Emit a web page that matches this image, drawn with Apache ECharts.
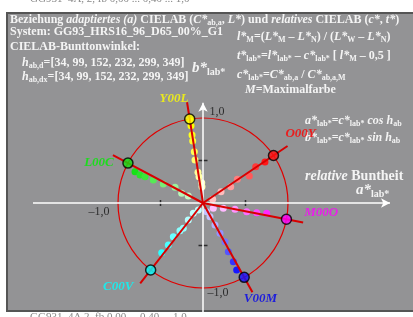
<!DOCTYPE html>
<html>
<head>
<meta charset="utf-8">
<script src="https://cdn.jsdelivr.net/npm/echarts@6/dist/echarts.min.js"></script>
<style>
  html, body { margin: 0; padding: 0; background: #fff; }
  #chart { width: 413px; height: 317px; }
</style>
</head>
<body>
<div id="chart"></div>
<script>
// Bunttonwinkel der sechs Elementarfarben (Grad)
const hueNames = ['O00Y', 'Y00L', 'L00C', 'C00V', 'V00M', 'M00O'];
const hueAngles = [34, 99, 152, 232, 299, 349];
const hueColors = ['#ff1010', '#ffff00', '#10e010', '#00ffff', '#1010ff', '#ff00ff'];
const labelColors = ['#ff0000', '#ffff00', '#00ee00', '#00ffff', '#0000ee', '#ff00ff'];
// Versatz der Beschriftung gegen das Linienende (px)
const labelOffsets = [[13, -12], [-13, -4], [-14, 8], [-22, 3], [8, 6], [18, -10]];

// Messpunkte [a*lab*, b*lab*] je Farbreihe, vom Rand zur Mitte
const dotsO = [[0.729, 0.482], [0.62, 0.427], [0.545, 0.318], [0.404, 0.279], [0.326, 0.192], [0.212, 0.133], [0.114, 0.044]];
const dotsY = [[-0.145, 0.965], [-0.141, 0.909], [-0.129, 0.8], [-0.121, 0.729], [-0.102, 0.604], [-0.094, 0.506], [-0.059, 0.361], [-0.047, 0.31], [-0.015, 0.239], [-0.012, 0.192]];
const dotsL = [[-0.8, 0.368], [-0.741, 0.329], [-0.682, 0.31], [-0.585, 0.271], [-0.467, 0.224], [-0.329, 0.185], [-0.251, 0.114], [-0.173, 0.082]];
const dotsC = [[-0.486, -0.585], [-0.408, -0.494], [-0.349, -0.396], [-0.271, -0.326], [-0.232, -0.298], [-0.173, -0.2], [-0.114, -0.121], [-0.055, -0.082]];
const dotsV = [[0.396, -0.788], [0.357, -0.69], [0.298, -0.573], [0.259, -0.455], [0.2, -0.357], [0.141, -0.259], [0.082, -0.161], [0.043, -0.102]];
const dotsM = [[0.749, -0.121], [0.632, -0.114], [0.514, -0.102], [0.376, -0.074], [0.239, -0.062], [0.121, -0.062]];
const dotSets = [dotsO, dotsY, dotsL, dotsC, dotsV, dotsM];

// Achsen
const axisX = [-2.0, 2.2];
const axisY = [-1.3, 1.18];
const tickVals = [-0.5, 0.5];
const lineLen = 1.2;

const serif = '"Liberation Serif", "DejaVu Serif", serif';
const txt = '#f4f4f4';

function mix(hex, t) {
  const c = parseInt(hex.slice(1), 16);
  const r = (c >> 16) & 255, g = (c >> 8) & 255, b = c & 255;
  const f = v => Math.round(255 * (1 - t) + v * t);
  return 'rgb(' + f(r) + ',' + f(g) + ',' + f(b) + ')';
}
const rad = d => d * Math.PI / 180;

const chart = echarts.init(document.getElementById('chart'));

const series = [];

// Messpunkte
dotSets.forEach((pts, i) => {
  series.push({
    type: 'scatter',
    data: pts,
    symbolSize: 7,
    z: 2,
    silent: true,
    itemStyle: {
      opacity: 1,
      color: p => {
        const r = Math.hypot(p.value[0], p.value[1]);
        return mix(hueColors[i], Math.min(1, Math.max(0.25, r * 1.1)));
      }
    }
  });
});

// Maximalfarben auf dem Einheitskreis
series.push({
  type: 'scatter',
  silent: true,
  zlevel: 1,
  z: 5,
  symbolSize: 10,
  data: hueAngles.map((h, i) => ({
    value: [Math.cos(rad(h)), Math.sin(rad(h))],
    itemStyle: { color: hueColors[i], borderColor: '#000', borderWidth: 1.5 }
  }))
});

// Beschriftung der Farbreihen
series.push({
  type: 'scatter',
  silent: true,
  zlevel: 1,
  z: 6,
  symbolSize: 0,
  data: hueAngles.map((h, i) => ({
    value: [lineLen * Math.cos(rad(h)), lineLen * Math.sin(rad(h))],
    label: {
      show: true, position: 'inside', offset: labelOffsets[i],
      formatter: hueNames[i], color: labelColors[i],
      fontFamily: serif, fontSize: 13, fontWeight: 'bold', fontStyle: 'italic'
    }
  }))
});

// Achsenlinien mit Pfeil
series.push({
  type: 'line',
  data: [],
  silent: true,
  z: 1,
  markLine: {
    silent: true,
    symbol: ['none', 'arrow'],
    symbolSize: [7, 9],
    label: { show: false },
    lineStyle: { color: '#ffffff', width: 1.5, type: 'solid' },
    data: [
      [{ coord: [axisX[0], 0] }, { coord: [axisX[1], 0] }],
      [{ coord: [0, axisY[0]] }, { coord: [0, axisY[1]] }]
    ]
  }
});

// Teilstriche
series.push({
  type: 'scatter', silent: true, z: 3, symbol: 'rect', symbolSize: [1.5, 6],
  itemStyle: { color: '#111' },
  data: tickVals.map(v => [v, 0])
});
series.push({
  type: 'scatter', silent: true, z: 3, symbol: 'rect', symbolSize: [9, 1.5],
  itemStyle: { color: '#111' },
  data: tickVals.map(v => [0, v])
});

// Achsenbeschriftung
const tickLabelStyle = { show: true, position: 'inside', color: '#111', fontFamily: serif, fontSize: 12 };
series.push({
  type: 'scatter', silent: true, z: 6, symbolSize: 0,
  data: [
    { value: [0, 1], label: Object.assign({}, tickLabelStyle, { formatter: '1,0', offset: [14, -6] }) },
    { value: [-1, 0], label: Object.assign({}, tickLabelStyle, { formatter: '\u20131,0', offset: [-19, 9] }) },
    { value: [0, -1], label: Object.assign({}, tickLabelStyle, { formatter: '\u20131,0', offset: [15, 5] }) }
  ]
});

function rich(size) {
  return {
    n: { fontFamily: serif, fontSize: size, fontWeight: 'bold', color: txt, lineHeight: size + 2 },
    i: { fontFamily: serif, fontSize: size, fontWeight: 'bold', fontStyle: 'italic', color: txt, lineHeight: size + 2 },
    s: { fontFamily: serif, fontSize: Math.round(size * 0.68), fontWeight: 'bold', color: txt, lineHeight: 5, verticalAlign: 'bottom' }
  };
}
function text(x, y, str, size) {
  return {
    type: 'text', left: x, top: y, z: 100, silent: true,
    style: { text: str, rich: rich(size), fill: txt }
  };
}

chart.setOption({
  animation: false,
  backgroundColor: '#ffffff',
  grid: { left: 7.5, top: 16, width: 399.5, height: 297.5, show: false },
  xAxis: { type: 'value', min: -2.3, max: 2.4, show: false },
  yAxis: { type: 'value', min: -1.3, max: 2.2, show: false },
  series: series,
  graphic: { elements: [
    { type: 'rect', z: -10, silent: true, shape: { x: 7, y: 13, width: 408, height: 298 },
      style: { fill: '#939395', stroke: '#555', lineWidth: 2 } },
    { type: 'text', left: 30, top: -6, z: 100, silent: true,
      style: { text: 'GG931\u20134A, 2, fb 0,00 ... 0,40 ... 1,0', fill: '#888', font: '11px ' + serif } },
    { type: 'text', left: 30, top: 312, z: 100, silent: true,
      style: { text: 'GG931\u20134A 2, fb 0,00 ... 0,40 ... 1,0', fill: '#888', font: '11px ' + serif } },
    text(10, 14, '{n|Beziehung }{i|adaptiertes (a)}{n| CIELAB (}{i|C*}{s|ab,a}{n|, }{i|L*}{n|) und }{i|relatives}{n| CIELAB (}{i|c*}{n|, }{i|t*}{n|)}', 12),
    text(10, 26, '{n|System: GG93_HRS16_96_D65_00%_G1}', 12),
    text(10, 41, '{n|CIELAB-Bunttonwinkel:}', 12),
    text(22, 57, '{i|h}{s|ab,d}{n|=[34, 99, 152, 232, 299, 349]}', 12),
    text(22, 71, '{i|h}{s|ab,dx}{n|=[34, 99, 152, 232, 299, 349]}', 12),
    text(237, 31, '{i|l*}{s|M}{n|=(}{i|L*}{s|M}{n| \u2013 }{i|L*}{s|N}{n|) / (}{i|L*}{s|W}{n| \u2013 }{i|L*}{s|N}{n|)}', 12),
    text(237, 50, '{i|t*}{s|lab*}{n|=}{i|l*}{s|lab*}{n| \u2013 }{i|c*}{s|lab*}{n| [ }{i|l*}{s|M}{n| \u2013 0,5 ]}', 12),
    text(237, 69, '{i|c*}{s|lab*}{n|=}{i|C*}{s|ab,a}{n| / }{i|C*}{s|ab,a,M}', 12),
    text(245, 84, '{i|M}{n|=Maximalfarbe}', 12),
    text(192, 61, '{i|b*}{s|lab*}', 15),
    text(305, 115, '{i|a*}{s|lab*}{n|=}{i|c*}{s|lab*}{i| cos h}{s|ab}', 12),
    text(305, 132, '{i|b*}{s|lab*}{n|=}{i|c*}{s|lab*}{i| sin h}{s|ab}', 12),
    text(305, 169, '{i|relative}{n| Buntheit}', 14),
    text(356, 183, '{i|a*}{s|lab*}', 15)
  ] }
});

// Einheitskreis und Bunttonlinien ueber die Skalen der Achsen
const toPx = v => chart.convertToPixel({ gridIndex: 0 }, v);
const c0 = toPx([0, 0]);
const c1 = toPx([1, 0]);
const overlay = [
  { type: 'circle', id: 'unit', z: 1, silent: true,
    shape: { cx: c0[0], cy: c0[1], r: c1[0] - c0[0] },
    style: { fill: 'none', stroke: '#e00000', lineWidth: 1.2 } }
];
hueAngles.forEach((h, i) => {
  const p = toPx([lineLen * Math.cos(rad(h)), lineLen * Math.sin(rad(h))]);
  overlay.push({
    type: 'line', id: 'hue' + i, z: 50, silent: true,
    shape: { x1: c0[0], y1: c0[1], x2: p[0], y2: p[1] },
    style: { stroke: '#d80000', lineWidth: 2 }
  });
});
chart.setOption({ graphic: { elements: overlay } });
</script>
</body>
</html>
